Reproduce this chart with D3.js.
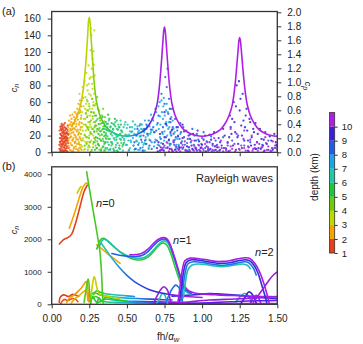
<!DOCTYPE html>
<html>
<head>
<meta charset="utf-8">
<script src="https://cdn.jsdelivr.net/npm/d3@7"></script>
<style>
body{margin:0;background:#fff;}
svg text{font-family:"Liberation Sans",Arial,Helvetica,sans-serif;fill:#222;}
</style>
</head>
<body>
<div id="chart"></div>
<script>
// colour bar: depth (km)
var depthTicks=[1,2,3,4,5,6,7,8,9,10];
var depthStops=[1.5,2.5,3.5,4.5,5.5,6.5,7.5,8.5,9.5,10.5];
var depthColors=["#e5401a","#f5a300","#bcd900","#6ccc0c","#22c43a","#20c8a8","#1aa6e0","#1e5ee6","#3a1ed8","#b01ee6"];

var xTicks=[0,0.25,0.5,0.75,1,1.25,1.5];
var cnTicks=[0,20,40,60,80,100,120,140,160];
var cpTicks=[0,0.2,0.4,0.6,0.8,1.0,1.2,1.4,1.6,1.8,2.0];
var cnTicksB=[0,1000,2000,3000,4000];

// (a) scatter, c_n values per depth class
var ptsRed=[[0.052,4],[0.055,12],[0.057,22],[0.058,31],[0.06,7],[0.061,17],[0.063,27],[0.064,2],[0.066,34],[0.067,14],[0.069,9],[0.07,24],[0.071,19],[0.073,3],[0.074,29],[0.075,11],[0.077,16],[0.078,6],[0.079,25],[0.081,21],[0.082,1],[0.083,13],[0.085,30],[0.086,8],[0.087,18],[0.089,26],[0.09,4],[0.091,15],[0.093,22],[0.094,10],[0.096,28],[0.097,2],[0.098,19],[0.1,13],[0.101,24],[0.103,7],[0.105,17],[0.106,32],[0.108,11],[0.11,21],[0.112,5],[0.065,20],[0.072,32],[0.059,1],[0.076,23],[0.088,35],[0.095,17],[0.104,27],
	[0.051,9],[0.053,26],[0.054,17],[0.056,3],[0.058,13],[0.06,29],[0.062,10],[0.063,21],[0.065,5],[0.066,27],[0.068,16],[0.069,31],[0.071,8],[0.072,13],[0.074,19],[0.076,1],[0.077,27],[0.079,10],[0.08,33],[0.082,17],[0.084,6],[0.085,23],[0.087,12],[0.088,2],[0.09,19],[0.092,29],[0.093,8],[0.095,14],[0.097,23],[0.099,5],[0.102,16],[0.104,1],[0.107,22],[0.109,14]];
var ptsOrange=[[0.11,30],[0.112,14],[0.115,38],[0.117,6],[0.12,22],[0.122,44],[0.124,11],[0.126,33],[0.128,2],[0.13,19],[0.132,40],[0.134,27],[0.136,8],[0.138,45],[0.14,15],[0.142,35],[0.144,24],[0.146,4],[0.148,42],[0.15,29],[0.152,12],[0.154,48],[0.156,20],[0.158,37],[0.16,7],[0.162,31],[0.164,46],[0.166,16],[0.168,25],[0.17,52],[0.172,3],[0.174,39],[0.176,21],[0.178,58],[0.18,10],[0.182,33],[0.184,47],[0.186,18],[0.188,62],[0.19,27],[0.192,6],[0.194,41],[0.196,55],[0.198,14],[0.2,35],[0.127,26],[0.143,1],[0.159,13],[0.171,44],[0.183,5],
	[0.111,8],[0.113,25],[0.116,17],[0.118,33],[0.121,3],[0.123,28],[0.125,18],[0.129,36],[0.131,9],[0.133,23],[0.135,31],[0.137,14],[0.139,1],[0.141,28],[0.145,17],[0.147,34],[0.149,6],[0.151,21],[0.153,39],[0.155,11],[0.157,27],[0.161,18],[0.163,4],[0.165,34],[0.167,42],[0.169,10],[0.173,27],[0.175,15],[0.177,47],[0.179,2],[0.181,23],[0.185,36],[0.187,9],[0.189,50],[0.191,16],[0.193,30],[0.195,22],[0.197,44],[0.199,3]];
var ptsYellow=[[0.18,24],[0.185,70],[0.19,48],[0.195,9],[0.2,62],[0.203,30],[0.206,78],[0.209,17],[0.212,55],[0.215,40],[0.218,85],[0.221,4],[0.224,66],[0.227,26],[0.23,95],[0.233,50],[0.236,12],[0.239,74],[0.242,36],[0.245,104],[0.248,58],[0.25,20],[0.252,88],[0.255,44],[0.258,122],[0.26,68],[0.262,30],[0.265,140],[0.268,82],[0.27,52],[0.272,112],[0.275,10],[0.278,60],[0.28,36],[0.222,52],[0.238,28],[0.254,6],[0.266,100],[0.246,82],[0.212,14],[0.228,46],[0.26,148],[0.274,90],[0.256,33],[0.234,63],[0.283,146],[0.278,121],[0.285,92],[0.28,105],
	[0.181,12],[0.186,35],[0.188,57],[0.191,22],[0.193,4],[0.196,40],[0.199,15],[0.201,48],[0.204,7],[0.207,26],[0.21,65],[0.213,33],[0.216,3],[0.219,21],[0.223,40],[0.226,12],[0.229,58],[0.231,31],[0.235,80],[0.237,18],[0.24,44],[0.243,6],[0.247,30],[0.249,70],[0.251,12],[0.253,52],[0.257,22],[0.259,90],[0.263,48],[0.264,14],[0.267,64],[0.269,28],[0.271,76],[0.273,40],[0.276,20],[0.279,48],[0.282,70],[0.284,24],[0.287,56],[0.289,12]];
var ptsLime=[[0.22,8],[0.225,33],[0.23,18],[0.235,42],[0.24,3],[0.245,27],[0.25,55],[0.255,12],[0.26,38],[0.265,22],[0.27,64],[0.275,6],[0.28,47],[0.285,30],[0.29,15],[0.295,58],[0.3,25],[0.305,40],[0.31,9],[0.315,50],[0.32,20],[0.325,34],[0.33,4],[0.335,44],[0.34,16],[0.345,28],[0.35,37],[0.355,11],[0.36,23],[0.238,61],[0.262,1],[0.288,36],[0.302,66],[0.318,29],[0.248,17],[0.272,43],[0.298,5],[0.342,52],
	[0.221,20],[0.227,47],[0.232,10],[0.237,30],[0.242,50],[0.247,8],[0.252,36],[0.257,24],[0.263,48],[0.267,3],[0.273,28],[0.277,56],[0.283,17],[0.287,44],[0.292,8],[0.297,32],[0.303,13],[0.307,52],[0.312,27],[0.317,3],[0.322,38],[0.327,14],[0.332,26],[0.338,6],[0.343,31],[0.348,19],[0.353,42],[0.358,3],[0.363,16],[0.37,30]];
var ptsGreen=[[0.28,12],[0.29,32],[0.3,5],[0.31,22],[0.32,41],[0.33,14],[0.34,28],[0.35,2],[0.36,36],[0.37,19],[0.38,9],[0.39,30],[0.4,24],[0.41,4],[0.42,40],[0.43,15],[0.44,27],[0.45,8],[0.46,33],[0.47,18],[0.48,11],[0.295,44],[0.315,8],[0.335,35],[0.355,20],[0.375,45],[0.395,12],[0.415,33],[0.435,2],[0.455,22],[0.305,17],[0.345,13],[0.385,26],[0.425,6],
	[0.282,25],[0.287,3],[0.293,18],[0.297,38],[0.303,28],[0.308,10],[0.313,34],[0.318,16],[0.323,25],[0.328,2],[0.333,21],[0.338,42],[0.343,7],[0.348,24],[0.353,31],[0.358,12],[0.363,27],[0.368,5],[0.373,34],[0.378,16],[0.383,40],[0.388,3],[0.393,22],[0.398,35],[0.403,10],[0.408,28],[0.413,17],[0.418,2],[0.423,31],[0.428,21],[0.433,38],[0.438,11],[0.443,20],[0.448,30],[0.453,4],[0.46,15],[0.465,26],[0.475,9],[0.49,21]];
var ptsTeal=[[0.35,10],[0.37,26],[0.39,4],[0.41,34],[0.43,18],[0.45,30],[0.47,7],[0.49,36],[0.51,14],[0.53,24],[0.55,3],[0.57,31],[0.59,19],[0.61,9],[0.63,28],[0.65,15],[0.36,17],[0.38,38],[0.4,12],[0.42,22],[0.44,1],[0.46,26],[0.48,16],[0.5,29],[0.52,5],[0.54,37],[0.56,20],[0.58,11],[0.6,33],[0.62,2],[0.64,22],[0.485,33],[0.515,21],
	[0.352,28],[0.357,5],[0.362,21],[0.367,34],[0.372,12],[0.377,3],[0.382,25],[0.387,16],[0.392,31],[0.397,8],[0.403,20],[0.408,27],[0.413,2],[0.418,15],[0.423,36],[0.428,9],[0.433,28],[0.438,19],[0.443,33],[0.448,5],[0.453,16],[0.458,38],[0.463,11],[0.468,24],[0.473,2],[0.478,30],[0.483,14],[0.492,9],[0.497,20],[0.505,33],[0.512,2],[0.52,25],[0.527,12],[0.535,30],[0.543,8],[0.552,28],[0.563,14],[0.575,24],[0.585,3],[0.595,20],[0.605,27],[0.615,11],[0.625,18],[0.645,6],[0.66,24]];
var ptsSky=[[0.5,9],[0.52,30],[0.54,17],[0.56,4],[0.58,26],[0.6,12],[0.62,38],[0.64,20],[0.66,45],[0.68,7],[0.7,33],[0.71,55],[0.72,18],[0.73,62],[0.74,40],[0.75,25],[0.76,50],[0.77,11],[0.78,36],[0.79,22],[0.8,3],[0.81,28],[0.82,15],[0.83,9],[0.84,20],[0.85,6],[0.55,22],[0.61,2],[0.65,31],[0.69,15],[0.72,43],[0.745,65],[0.755,34],[0.765,58],[0.775,28],[0.785,8],[0.795,42],[0.67,27],[0.63,10],[0.59,34],
	[0.505,20],[0.515,3],[0.525,14],[0.535,25],[0.545,8],[0.555,33],[0.565,13],[0.575,3],[0.585,19],[0.595,28],[0.605,6],[0.615,24],[0.625,15],[0.635,31],[0.645,4],[0.655,22],[0.665,12],[0.675,38],[0.685,24],[0.695,48],[0.705,9],[0.712,28],[0.718,60],[0.723,33],[0.728,11],[0.733,48],[0.738,22],[0.742,55],[0.748,14],[0.752,44],[0.758,5],[0.762,36],[0.768,20],[0.772,48],[0.778,14],[0.782,30],[0.788,52],[0.792,10],[0.798,26],[0.805,38],[0.812,12],[0.818,24],[0.825,4],[0.835,16],[0.845,9],[0.855,22]];
var ptsBlue=[[0.55,12],[0.57,28],[0.59,5],[0.61,20],[0.63,33],[0.65,8],[0.67,40],[0.68,24],[0.69,52],[0.7,14],[0.71,44],[0.72,2],[0.73,70],[0.74,30],[0.75,58],[0.755,90],[0.76,18],[0.765,78],[0.77,100],[0.775,46],[0.78,64],[0.785,10],[0.79,36],[0.8,52],[0.81,22],[0.82,40],[0.83,6],[0.84,30],[0.85,16],[0.86,24],[0.87,4],[0.88,18],[0.9,11],[0.92,21],[0.94,3],[0.96,14],[0.98,8],[1.0,17],[1.02,5],[1.05,12],[1.08,2],[1.1,9],[0.62,14],[0.66,27],[0.705,35],[0.725,16],[0.745,6],[0.795,20],[0.815,9],[0.835,26],[0.875,30],[0.91,6],[0.95,20],
	[0.555,4],[0.565,20],[0.575,9],[0.585,32],[0.595,15],[0.605,2],[0.615,28],[0.625,10],[0.635,22],[0.645,38],[0.655,14],[0.665,4],[0.675,30],[0.685,12],[0.695,26],[0.715,8],[0.735,24],[0.765,32],[0.785,52],[0.805,30],[0.825,18],[0.845,7],[0.855,35],[0.865,13],[0.885,9],[0.895,26],[0.905,16],[0.915,3],[0.925,12],[0.935,28],[0.945,9],[0.955,5],[0.965,22],[0.975,15],[0.985,2],[0.995,10],[1.01,24],[1.03,13],[1.04,4],[1.06,19],[1.07,8],[1.09,14],[1.12,3],[1.14,18],[1.17,8],[1.2,14],[1.24,20],[1.28,8],[1.32,12],[1.36,4],[1.4,9],[1.44,14],[1.48,5]];
var ptsIndigo=[[0.7,5],[0.72,22],[0.74,10],[0.76,34],[0.78,15],[0.8,27],[0.82,3],[0.84,19],[0.86,11],[0.88,25],[0.9,7],[0.92,16],[0.94,22],[0.96,4],[0.98,13],[1.0,9],[1.02,20],[1.04,2],[1.06,15],[1.08,24],[1.1,6],[1.12,12],[1.14,28],[1.16,4],[1.18,18],[1.2,40],[1.21,60],[1.22,24],[1.23,80],[1.24,10],[1.25,50],[1.26,32],[1.27,70],[1.28,14],[1.29,44],[1.3,26],[1.31,6],[1.32,36],[1.33,18],[1.34,28],[1.35,9],[1.37,22],[1.39,4],[1.41,15],[1.43,10],[1.45,19],[1.47,3],[1.49,12],[1.5,7],[0.75,48],[0.79,40],[0.87,33],[1.19,30],[1.245,85],[1.275,38],
	[0.71,12],[0.73,3],[0.75,18],[0.77,6],[0.79,24],[0.81,14],[0.83,30],[0.85,5],[0.87,17],[0.89,2],[0.91,20],[0.93,8],[0.95,14],[0.97,26],[0.99,5],[1.01,15],[1.03,7],[1.05,21],[1.07,10],[1.09,3],[1.11,17],[1.13,8],[1.15,20],[1.17,12],[1.185,44],[1.195,22],[1.205,8],[1.215,36],[1.225,55],[1.235,18],[1.255,64],[1.265,20],[1.285,30],[1.295,52],[1.305,14],[1.315,40],[1.325,8],[1.345,24],[1.355,35],[1.365,12],[1.375,5],[1.385,28],[1.395,16],[1.405,8],[1.42,24],[1.44,3],[1.46,14],[1.48,22],[1.495,9],
	[0.705,1],[0.725,6],[0.745,2],[0.785,4],[0.805,1],[0.845,3],[0.875,6],[0.905,1],[0.935,4],[0.965,2],[0.995,6],[1.025,1],[1.055,4],[1.085,7],[1.115,2],[1.145,5],[1.175,1],[1.225,3],[1.265,5],[1.305,2],[1.355,4],[1.415,2],[1.465,5]];
var ptsPurple=[[0.72,2],[0.75,8],[0.78,1],[0.81,12],[0.84,4],[0.87,9],[0.9,2],[0.93,14],[0.96,5],[0.99,1],[1.02,10],[1.05,3],[1.08,17],[1.11,6],[1.14,1],[1.17,11],[1.2,4],[1.23,22],[1.26,8],[1.29,2],[1.32,15],[1.35,5],[1.38,10],[1.41,1],[1.44,7],[1.47,13],[1.5,3],[1.19,28],[1.28,26],[1.33,20],[1.42,18],
	[0.735,5],[0.765,12],[0.795,4],[0.825,7],[0.855,1],[0.885,13],[0.915,6],[0.945,2],[0.975,9],[1.005,4],[1.035,12],[1.065,1],[1.095,8],[1.125,14],[1.155,5],[1.185,2],[1.215,10],[1.245,4],[1.275,16],[1.305,7],[1.335,2],[1.365,12],[1.395,6],[1.425,11],[1.455,2],[1.485,8],
	[0.74,3],[0.77,5],[0.8,2],[0.83,1],[0.86,6],[0.89,3],[0.92,1],[0.95,7],[0.98,3],[1.01,2],[1.04,6],[1.07,3],[1.1,1],[1.13,5],[1.16,2],[1.19,7],[1.22,1],[1.25,3],[1.28,5],[1.31,1],[1.34,4],[1.37,2],[1.4,6],[1.43,3],[1.46,1],[1.49,5]];

// (a) c_p curve (right axis)
var cpX=[0.13,0.15,0.17,0.19,0.21,0.22,0.23,0.24,0.245,0.25,0.255,0.26,0.27,0.28,0.29,0.30,0.32,0.35,0.38,0.42,0.46,0.5,0.54,0.58,0.62,0.65,0.68,0.70,0.71,0.72,0.73,0.74,0.745,0.75,0.755,0.76,0.77,0.78,0.79,0.80,0.82,0.85,0.88,0.92,0.96,1.0,1.04,1.08,1.12,1.15,1.18,1.2,1.21,1.22,1.23,1.24,1.245,1.25,1.255,1.26,1.27,1.28,1.29,1.30,1.32,1.35,1.38,1.42,1.46,1.5];
var cpY=[0.36,0.43,0.53,0.66,0.90,1.10,1.37,1.70,1.88,1.93,1.86,1.70,1.37,1.06,0.84,0.70,0.53,0.40,0.32,0.27,0.24,0.23,0.24,0.27,0.32,0.40,0.53,0.68,0.82,1.03,1.30,1.60,1.74,1.79,1.73,1.60,1.30,1.03,0.83,0.69,0.53,0.40,0.32,0.27,0.24,0.23,0.24,0.27,0.32,0.40,0.53,0.67,0.80,0.98,1.22,1.48,1.60,1.64,1.59,1.48,1.22,0.99,0.81,0.68,0.53,0.40,0.32,0.27,0.24,0.23];
var cpColorX=[0.13,0.2,0.25,0.29,0.35,0.42,0.5,0.57,0.63,0.69,0.75,1.5];
var cpColorDepth=[2.5,3.2,3.6,4.3,5.2,6.1,7.0,8.2,9.2,10.2,10.5,10.5];

// (b) Rayleigh wave mode curves
var redUpper=[[0.051,1855],[0.077,1980],[0.11,2060],[0.133,2160],[0.155,2440],[0.188,3000],[0.215,3465],[0.237,3670]];
var orangeUpper=[[0.117,2340],[0.14,2640],[0.165,3000],[0.19,3380],[0.21,3620],[0.232,3730],[0.242,3700]];
var yellowShort=[[0.17,3420],[0.185,3560],[0.195,3620]];
var n0Steep=[[0.232,4080],[0.26,3300],[0.29,2500],[0.31,1950],[0.32,1650],[0.328,1200],[0.334,700],[0.338,250],[0.342,40]];
var orangeFall=[[0.3,1830],[0.33,1720],[0.37,1560],[0.41,1420],[0.455,1260]];
var n1Green=[[0.30,1700],[0.315,1900],[0.33,2010],[0.345,2030],[0.37,1960],[0.4,1830],[0.45,1620],[0.5,1470],[0.55,1380],[0.6,1370],[0.64,1450],[0.68,1640],[0.71,1800],[0.735,1880],[0.76,1850],[0.78,1700],[0.8,1450],[0.82,1150],[0.845,800],[0.87,500]];
var n1Teal=[[0.32,1800],[0.335,1960],[0.35,2000],[0.375,1940],[0.41,1790],[0.46,1600],[0.51,1480],[0.56,1420],[0.61,1430],[0.65,1540],[0.69,1740],[0.72,1880],[0.745,1950],[0.77,1900],[0.79,1720],[0.81,1450],[0.835,1100],[0.86,700],[0.89,400],[0.93,300]];
var n1Blue=[[0.4,1560],[0.45,1510],[0.5,1480],[0.55,1470],[0.6,1500],[0.64,1620],[0.68,1820],[0.715,1960],[0.745,2010],[0.77,1960],[0.79,1780],[0.81,1520],[0.835,1150],[0.86,760],[0.89,450],[0.93,330]];
var n1Purple=[[0.52,1520],[0.56,1530],[0.6,1570],[0.64,1700],[0.68,1890],[0.71,2000],[0.74,2050],[0.765,2020],[0.785,1870],[0.805,1620],[0.83,1250],[0.855,880],[0.88,580],[0.91,420],[0.95,350],[1.0,320],[1.1,290],[1.2,270],[1.3,255],[1.4,240],[1.5,230]];
var n0Tail=[[0.33,1880],[0.36,1680],[0.4,1420],[0.45,1130],[0.5,890],[0.55,700],[0.6,560],[0.65,450],[0.7,380],[0.75,330],[0.8,290],[0.85,260],[0.9,240],[1.0,210]];
var n0TailDepth=[6.3,6.8,7.3,7.8,8.2,8.6,8.9,9.2,9.4,9.7,10,10.2,10.4,10.5];
var n2Teal=[[0.875,200],[0.89,700],[0.905,1050],[0.93,1200],[0.97,1240],[1.02,1225],[1.08,1180],[1.13,1160],[1.18,1180],[1.23,1220],[1.27,1240],[1.3,1200],[1.32,1100]];
var n2Blue=[[0.86,100],[0.875,600],[0.89,1030],[0.905,1240],[0.94,1310],[0.99,1295],[1.05,1250],[1.11,1205],[1.16,1210],[1.21,1245],[1.26,1295],[1.29,1310],[1.315,1260],[1.34,1120],[1.36,900]];
var n2Indigo=[[0.85,80],[0.865,600],[0.88,1080],[0.895,1290],[0.93,1370],[0.98,1355],[1.04,1310],[1.1,1265],[1.15,1265],[1.2,1295],[1.25,1345],[1.29,1370],[1.32,1330],[1.345,1200],[1.37,980],[1.395,620],[1.42,230],[1.43,50]];
var n2Purple=[[0.84,80],[0.855,600],[0.87,1100],[0.885,1340],[0.92,1420],[0.97,1410],[1.03,1370],[1.09,1320],[1.14,1320],[1.19,1350],[1.24,1400],[1.29,1430],[1.32,1400],[1.35,1260],[1.38,1020],[1.41,650],[1.435,250],[1.445,60]];
var rightRise=[[1.34,60],[1.363,200],[1.39,380],[1.418,560],[1.445,740],[1.474,900],[1.5,1000]];
var lowRed1=[[0.05,60],[0.055,200],[0.065,260],[0.08,290],[0.095,270],[0.11,240],[0.125,270],[0.14,310],[0.16,280],[0.18,240]];
var lowRed2=[[0.06,20],[0.075,120],[0.09,150],[0.105,110],[0.12,140],[0.14,180],[0.16,150],[0.175,80]];
var lowOrange1=[[0.1,60],[0.12,200],[0.14,260],[0.16,330],[0.18,420],[0.2,520],[0.215,620],[0.228,700],[0.236,640],[0.242,380],[0.246,80]];
var lowOrange2=[[0.13,40],[0.15,150],[0.17,230],[0.19,300],[0.21,380],[0.225,430],[0.235,330],[0.24,120]];
var lowYellow=[[0.255,60],[0.265,400],[0.275,720],[0.282,850],[0.29,760],[0.3,520],[0.315,330],[0.34,260],[0.38,230],[0.45,180]];
var lowGreenSpike=[[0.215,60],[0.225,350],[0.235,650],[0.242,780],[0.248,640],[0.253,300],[0.258,60]];
var lowBand1=[[0.24,200],[0.26,280],[0.28,360],[0.3,330],[0.33,280],[0.37,250],[0.42,220],[0.5,190],[0.6,170],[0.7,150],[0.8,130]];
var lowBand1Depth=[4.5,4.8,5.0,5.2,5.5,5.9,6.4,7.2,8.2,9.2,10.2];
var lowBand2=[[0.25,100],[0.27,180],[0.29,240],[0.31,200],[0.33,120],[0.36,160],[0.4,140],[0.45,110],[0.55,90],[0.65,80],[0.75,70],[0.85,60]];
var lowBand2Depth=[4.6,4.9,5.1,5.3,5.6,6.0,6.4,7.0,8.0,9.0,9.8,10.4];
var lowBand3=[[0.3,40],[0.33,90],[0.37,70],[0.42,60],[0.5,50],[0.6,40],[0.7,35],[0.8,30],[0.9,30],[1.0,25],[1.2,20],[1.5,20]];
var lowBand3Depth=[5.2,5.6,6.0,6.5,7.2,8.2,9.0,9.8,10.3,10.5,10.5,10.5];
var lowBand4=[[0.28,300],[0.3,420],[0.32,380],[0.35,330],[0.4,300],[0.45,280],[0.5,260],[0.55,240]];
var lowBand4Depth=[4.8,5.0,5.3,5.8,6.4,7.0,7.4,7.8];
var lowWiggle=[[0.26,20],[0.27,250],[0.285,150],[0.3,60],[0.315,200],[0.33,100],[0.36,220],[0.4,170],[0.45,130],[0.5,100]];
var arcTeal=[[0.7,40],[0.72,200],[0.735,330],[0.75,300],[0.765,100],[0.77,30]];
var arcPurple=[[0.68,60],[0.7,250],[0.72,420],[0.745,540],[0.765,470],[0.78,300],[0.79,80]];
var arcBlue=[[0.76,60],[0.78,280],[0.8,470],[0.825,590],[0.845,520],[0.86,330],[0.87,80]];
var arc13a=[[1.22,40],[1.25,220],[1.28,330],[1.3,300],[1.32,150],[1.33,40]];
var arc13b=[[1.26,40],[1.29,250],[1.31,380],[1.33,330],[1.35,150],[1.36,30]];
var arc13c=[[1.32,30],[1.34,200],[1.36,280],[1.38,150],[1.39,30]];
var lowPurple1=[[0.85,40],[0.95,90],[1.05,130],[1.15,150],[1.25,170],[1.35,200],[1.45,230],[1.5,240]];
var lowPurple2=[[0.9,20],[1.0,40],[1.1,60],[1.2,80],[1.3,100],[1.4,110],[1.5,120]];
var lowIndigo=[[0.8,250],[0.9,280],[1.0,310],[1.05,330],[1.1,320],[1.2,290],[1.3,250],[1.4,200],[1.5,180]];

var W=363,H=344;
var svg=d3.select("#chart").append("svg").attr("width",W).attr("height",H);
var defs=svg.append("defs");

var x=d3.scaleLinear().domain([0,1.5]).range([51.7,277.3]);
var yA=d3.scaleLinear().domain([0,168.5]).range([152.3,11.5]);
var yR=d3.scaleLinear().domain([0,2]).range([152.3,12.3]);
var yB=d3.scaleLinear().domain([0,4230]).range([304.3,166.8]);
var yC=d3.scaleLinear().domain([1,11]).range([253,112.6]);
var color=d3.scaleLinear().domain(depthStops).range(depthColors).clamp(true);

var gradCount=0;
function gradient(xs,ds){
	var id="grad"+(gradCount++);
	var x0=x(xs[0]),x1=x(xs[xs.length-1]);
	var g=defs.append("linearGradient").attr("id",id)
		.attr("gradientUnits","userSpaceOnUse")
		.attr("x1",x0).attr("x2",x1).attr("y1",0).attr("y2",0);
	for(var i=0;i<xs.length;i++){
		g.append("stop").attr("offset",(x(xs[i])-x0)/(x1-x0)).attr("stop-color",color(ds[i]));
	}
	return "url(#"+id+")";
}

function styleAxis(g,size){
	g.attr("font-family","Liberation Sans, Arial, sans-serif").attr("font-size",size);
	g.select(".domain").remove();
	g.selectAll(".tick line").attr("stroke","#333");
	g.selectAll(".tick text").attr("fill","#222");
}

// ---------- panel (a)
defs.append("clipPath").attr("id","clipA").append("rect")
	.attr("x",51.7).attr("y",11.5).attr("width",225.6).attr("height",140.8);
defs.append("clipPath").attr("id","clipB").append("rect")
	.attr("x",51.7).attr("y",166.8).attr("width",225.6).attr("height",137.5);

var scatterGroups=[
	{pts:ptsRed,depth:1.5},{pts:ptsOrange,depth:2.5},{pts:ptsYellow,depth:3.5},
	{pts:ptsLime,depth:4.5},{pts:ptsGreen,depth:5.5},{pts:ptsTeal,depth:6.5},
	{pts:ptsSky,depth:7.5},{pts:ptsBlue,depth:8.5},{pts:ptsIndigo,depth:9.5},
	{pts:ptsPurple,depth:10.5}
];
var gA=svg.append("g").attr("clip-path","url(#clipA)");
scatterGroups.forEach(function(grp){
	gA.append("g").selectAll("circle").data(grp.pts).enter().append("circle")
		.attr("cx",function(d){return x(d[0]);})
		.attr("cy",function(d){return yA(d[1]);})
		.attr("r",1.15)
		.attr("fill",color(grp.depth))
		.attr("opacity",0.85);
});
var cpLine=d3.line().x(function(d){return x(d[0]);}).y(function(d){return yR(d[1]);}).curve(d3.curveCatmullRom);
gA.append("path").datum(cpX.map(function(v,i){return [v,cpY[i]];}))
	.attr("d",cpLine).attr("fill","none")
	.attr("stroke",gradient(cpColorX,cpColorDepth))
	.attr("stroke-width",1.6);

svg.append("rect").attr("x",51.7).attr("y",11.5).attr("width",225.6).attr("height",140.8)
	.attr("fill","none").attr("stroke","#333").attr("stroke-width",1.3);
svg.append("g").attr("transform","translate(51.7,0)")
	.call(d3.axisLeft(yA).tickValues(cnTicks).tickSize(4).tickPadding(7))
	.call(styleAxis,10);
svg.append("g").attr("transform","translate(277.3,0)")
	.call(d3.axisRight(yR).tickValues(cpTicks).tickSize(4).tickPadding(6).tickFormat(d3.format(".1f")))
	.call(styleAxis,10);
svg.append("g").attr("transform","translate(0,152.3)")
	.call(d3.axisBottom(x).tickValues(xTicks).tickSize(4).tickFormat(""))
	.call(styleAxis,10);

// ---------- panel (b)
var modeLines=[
	{pts:lowBand3,depth:lowBand3Depth},{pts:lowBand2,depth:lowBand2Depth},{pts:lowBand1,depth:lowBand1Depth},
	{pts:lowBand4,depth:lowBand4Depth},{pts:lowWiggle,depth:5.4},
	{pts:lowRed1,depth:1.5},{pts:lowRed2,depth:1.7},{pts:lowOrange2,depth:2.8},{pts:lowOrange1,depth:2.4},
	{pts:lowYellow,depth:3.3},{pts:lowGreenSpike,depth:4.8},
	{pts:redUpper,depth:1.5},{pts:orangeUpper,depth:2.5},{pts:yellowShort,depth:3.2},
	{pts:orangeFall,depth:2.7},
	{pts:arcTeal,depth:6.8},{pts:arcPurple,depth:10.3},{pts:arcBlue,depth:8.2},
	{pts:arc13a,depth:7},{pts:arc13b,depth:9.5},{pts:arc13c,depth:10.4},
	{pts:lowIndigo,depth:9.3},{pts:lowPurple2,depth:9.8},{pts:lowPurple1,depth:10.2},
	{pts:n1Green,depth:5.3},{pts:n1Teal,depth:6.7},{pts:n1Blue,depth:8.5},{pts:n1Purple,depth:10.4},
	{pts:n0Tail,depth:n0TailDepth},
	{pts:n0Steep,depth:5.0},
	{pts:n2Teal,depth:6.8},{pts:n2Blue,depth:8.2},{pts:n2Indigo,depth:9.3},{pts:n2Purple,depth:10.4},
	{pts:rightRise,depth:10.3}
];
var gB=svg.append("g").attr("clip-path","url(#clipB)");
var modeLine=d3.line().x(function(d){return x(d[0]);}).y(function(d){return yB(d[1]);}).curve(d3.curveCatmullRom);
modeLines.forEach(function(m){
	var stroke=Array.isArray(m.depth)?gradient(m.pts.map(function(p){return p[0];}),m.depth):color(m.depth);
	gB.append("path").datum(m.pts).attr("d",modeLine)
		.attr("fill","none").attr("stroke",stroke)
		.attr("stroke-width",1.6).attr("stroke-linecap","round");
});

svg.append("rect").attr("x",51.7).attr("y",166.8).attr("width",225.6).attr("height",137.5)
	.attr("fill","none").attr("stroke","#333").attr("stroke-width",1.3);
svg.append("g").attr("transform","translate(51.7,0)")
	.call(d3.axisLeft(yB).tickValues(cnTicksB).tickSize(4).tickPadding(6).tickFormat(d3.format("d")))
	.call(styleAxis,8);
svg.append("g").attr("transform","translate(0,304.3)")
	.call(d3.axisBottom(x).tickValues(xTicks).tickSize(4).tickPadding(7).tickFormat(d3.format(".2f")))
	.call(styleAxis,10);

// ---------- labels
svg.append("text").attr("x",2).attr("y",15).attr("font-size",11).text("(a)");
svg.append("text").attr("x",2).attr("y",170).attr("font-size",11).text("(b)");

function cLabel(tx,ty,rot,sub){
	var t=svg.append("text").attr("transform","translate("+tx+","+ty+") rotate("+rot+")")
		.attr("text-anchor","middle").attr("font-size",9).attr("font-style","italic");
	t.append("tspan").text("c");
	t.append("tspan").attr("font-size",7).attr("dy",2).text(sub);
}
cLabel(17,88,-90,"n");
cLabel(17,230,-90,"n");
cLabel(305,86,90,"p");

var xt=svg.append("text").attr("x",157).attr("y",340).attr("font-size",10);
xt.append("tspan").text("fh/");
xt.append("tspan").attr("font-style","italic").text("α");
xt.append("tspan").attr("font-style","italic").attr("font-size",7.5).attr("dy",2).text("w");

svg.append("text").attr("x",273).attr("y",182).attr("text-anchor","end").attr("font-size",11).text("Rayleigh waves");

function modeLabel(tx,ty,num){
	var t=svg.append("text").attr("x",tx).attr("y",ty).attr("font-size",11);
	t.append("tspan").attr("font-style","italic").text("n");
	t.append("tspan").text("="+num);
}
modeLabel(96,207,"0");
modeLabel(173,244,"1");
modeLabel(255,256,"2");

// ---------- colour bar
var cb=svg.append("g");
cb.selectAll("rect").data(depthTicks).enter().append("rect")
	.attr("x",329.5).attr("width",5.2)
	.attr("y",function(d){return yC(d+1);})
	.attr("height",function(d){return yC(d)-yC(d+1);})
	.attr("fill",function(d,i){return depthColors[i];});
cb.append("rect").attr("x",329.5).attr("y",yC(11)).attr("width",5.2).attr("height",yC(1)-yC(11))
	.attr("fill","none").attr("stroke","#333").attr("stroke-width",0.8);
svg.append("g").attr("transform","translate(334.7,0)")
	.call(d3.axisRight(yC).tickValues(depthTicks).tickSize(3).tickPadding(4))
	.call(styleAxis,9.5);
svg.append("text").attr("transform","translate(318,177) rotate(-90)")
	.attr("text-anchor","middle").attr("font-size",10).text("depth (km)");
</script>
</body>
</html>
